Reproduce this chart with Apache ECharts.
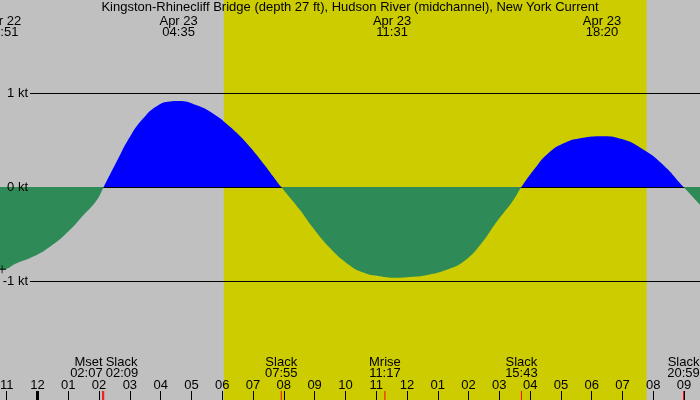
<!DOCTYPE html>
<html>
<head>
<meta charset="utf-8">
<script src="https://cdn.jsdelivr.net/npm/echarts@6/dist/echarts.min.js"></script>
<style>
html,body{margin:0;padding:0;background:#c0c0c0;}
#chart{width:700px;height:400px;}
</style>
</head>
<body>
<div id="chart"></div>
<script>
// ---- data (hours from Apr 23 00:00) ----
const title = 'Kingston-Rhinecliff Bridge (depth 27 ft), Hudson River (midchannel), New York Current';
const curveHours = [-1.4, -1.146, -0.676, -0.136, 0.406, 0.948, 1.487, 1.923, 2.15, 2.572, 3.004, 3.436, 3.871, 4.303, 4.583,
  5.170, 5.710, 6.252, 6.794, 7.333, 7.917, 8.526, 8.958, 9.500, 10.042, 10.581, 11.124, 11.517, 12.205, 12.747, 13.290,
  13.829, 14.371, 14.914, 15.453, 15.717, 16.158, 16.590, 17.132, 17.674, 18.333, 18.973, 19.623, 20.273, 20.983, 21.517];
const curveKnots = [-0.87, -0.875, -0.81, -0.74, -0.635, -0.49, -0.30, -0.14, 0, 0.27, 0.535, 0.73, 0.86, 0.91, 0.915,
  0.87, 0.78, 0.64, 0.465, 0.25, 0, -0.245, -0.44, -0.65, -0.81, -0.91, -0.95, -0.965, -0.955, -0.93, -0.88,
  -0.795, -0.62, -0.37, -0.14, 0, 0.2, 0.36, 0.47, 0.52, 0.54, 0.51, 0.41, 0.25, 0, -0.19];
const tickHours = [-1,0,1,2,3,4,5,6,7,8,9,10,11,12,13,14,15,16,17,18,19,20,21];
const tickLabels = ['11','12','01','02','03','04','05','06','07','08','09','10','11','12','01','02','03','04','05','06','07','08','09'];
const ktLevels = [1, 0, -1];
const extremeDays = ['Apr 22', 'Apr 23', 'Apr 23', 'Apr 23'];
const extremeTimes = ['22:51', '04:35', '11:31', '18:20'];
const extremeKnots = [-0.875, 0.915, -0.965, 0.54];
const eventNames = ['Mset', 'Slack', 'Slack', 'Mrise', 'Slack', 'Slack'];
const eventTimes = ['02:07', '02:09', '07:55', '11:17', '15:43', '20:59'];
const sunRise = '06:03';
const sunSet = '19:47';

// ---- helpers ----
const toH = s => { const p = s.split(':'); return +p[0] + (+p[1]) / 60; };
const xMin = -1.218, xMax = 21.517, yMin = -2.266, yMax = 1.989;
const lineStartX = -0.244;
const FONT = 'Liberation Sans';

const curve = curveHours.map((h, i) => [h, curveKnots[i]]);
const extremes = extremeTimes.map((t, i) => ({
  value: [toH(t) - (extremeDays[i] === 'Apr 22' ? 24 : 0), yMax],
  label: { formatter: extremeDays[i] + '\n' + t }
}));
const evH = eventTimes.map(toH);
const events = evH.map((h, i) => {
  let align = 'center';
  if (i + 1 < evH.length && evH[i + 1] - h < 0.5) align = 'right';
  if (i > 0 && h - evH[i - 1] < 0.5) align = 'left';
  return { value: [h, yMin], label: { align: align, padding: align === 'left' ? [0, 0, 0, 2] : 0,
    formatter: eventNames[i] + '\n' + eventTimes[i] } };
});
const solid = { opacity: 1 };

const chart = echarts.init(document.getElementById('chart'), null, { renderer: 'canvas' });
chart.setOption({
  animation: false,
  backgroundColor: '#c0c0c0',
  textStyle: { fontFamily: FONT },
  title: { text: title, left: 'center', top: 1, padding: 0, textStyle: { fontFamily: FONT, fontSize: 13, fontWeight: 'normal', color: '#000' } },
  grid: { left: 0, right: 0, top: 0, bottom: 0, containLabel: false, outerBoundsMode: 'none' },
  xAxis: {
    type: 'value', min: xMin, max: xMax, position: 'bottom', z: 10,
    axisLine: { show: false, onZero: false }, splitLine: { show: false },
    axisTick: { show: true, inside: true, length: 9, customValues: tickHours, lineStyle: { color: '#000', width: 1 } },
    axisLabel: { show: true, inside: true, margin: 8, customValues: tickHours, color: '#000', fontSize: 13, fontFamily: FONT,
      formatter: v => tickLabels[tickHours.indexOf(Math.round(v))] }
  },
  yAxis: {
    type: 'value', min: yMin, max: yMax, show: true, z: 10,
    axisLine: { show: false }, axisTick: { show: false }, splitLine: { show: false },
    axisLabel: { show: true, inside: true, align: 'right', margin: 28, customValues: ktLevels, color: '#000', fontSize: 13, fontFamily: FONT,
      formatter: v => Math.round(v) + ' kt' }
  },
  visualMap: {
    show: false, type: 'piecewise', seriesIndex: 2, dimension: 1,
    pieces: [{ gte: -10, lt: 0, color: '#2e8b57' }, { gte: 0, lte: 10, color: '#0000ff' }]
  },
  series: [
    { type: 'scatter', data: [], z: 1, silent: true,
      markArea: { silent: true, z: 1, itemStyle: { color: '#cccc00', opacity: 1 },
        data: [[{ coord: [toH(sunRise), yMin] }, { coord: [toH(sunSet), yMax] }]] } },
    { type: 'scatter', data: [], z: 2, silent: true,
      markLine: { silent: true, z: 2, symbol: 'none', animation: false,
        lineStyle: { color: '#000', width: 1, type: 'solid', opacity: 1 },
        label: { show: false },
        data: ktLevels.map(v => [{ coord: [lineStartX, v] }, { coord: [xMax, v] }]) } },
    { type: 'line', data: curve, smooth: 0.5, symbol: 'none', z: 3, silent: true, clip: true,
      lineStyle: { width: 0, opacity: 0 }, areaStyle: { opacity: 1, origin: 0 } },
    { type: 'scatter', z: 5, silent: true, data: [[extremes[0].value[0], extremeKnots[0]]],
      symbol: 'path://M0,4.5h10v1h-10z M4.5,0h1v10h-1z', symbolSize: 8, itemStyle: { color: '#000', opacity: 1 } },
    { type: 'scatter', z: 11, silent: true, data: evH.map(h => [h, yMin]),
      symbol: 'rect', symbolSize: [1, 9], symbolOffset: [0, -4.5], itemStyle: { color: '#ff0000', opacity: 1 } },
    { type: 'scatter', z: 11, silent: true, data: [[0, yMin]],
      symbol: 'rect', symbolSize: [3, 9], symbolOffset: [0, -4.5], itemStyle: { color: '#000', opacity: 1 } },
    { type: 'scatter', z: 6, silent: true, data: events, symbolSize: 0, itemStyle: solid,
      label: { show: true, position: 'top', distance: 21, color: '#000', fontSize: 13, lineHeight: 11, fontFamily: FONT } },
    { type: 'scatter', z: 6, silent: true, data: extremes, symbolSize: 0, itemStyle: solid,
      label: { show: true, position: 'bottom', distance: 16, color: '#000', fontSize: 13, lineHeight: 11, fontFamily: FONT } }
  ]
});
</script>
</body>
</html>
